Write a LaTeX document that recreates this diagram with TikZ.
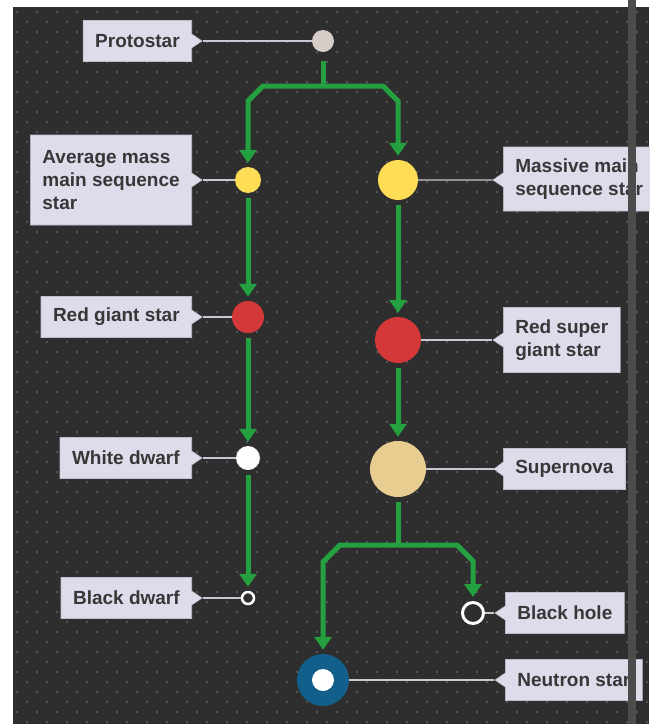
\documentclass[tikz,border=0pt]{standalone}
\usepackage{fontspec}
\setmainfont{Liberation Sans}
\usepackage{xcolor}
\usetikzlibrary{arrows.meta, shapes.callouts, calc}
\definecolor{bgdark}{RGB}{46,46,46}
\definecolor{dotgray}{RGB}{125,125,125}
\definecolor{bargray}{RGB}{76,76,76}
\definecolor{flowgreen}{RGB}{36,160,64}
\definecolor{lblfill}{RGB}{221,220,235}
\definecolor{lbledge}{RGB}{190,190,205}
\definecolor{lbltext}{RGB}{55,55,55}
\definecolor{leadgray}{RGB}{200,200,210}
\definecolor{protogray}{RGB}{214,205,201}
\definecolor{staryellow}{RGB}{255,220,85}
\definecolor{starred}{RGB}{212,56,56}
\definecolor{novabeige}{RGB}{232,205,145}
\definecolor{neutronblue}{RGB}{17,95,138}

\begin{document}
\begin{tikzpicture}[
      x=1pt, y=-1pt,
      every node/.style={font=\fontsize{19}{23}\selectfont\bfseries},
      lbl/.style={rectangle callout, fill=lblfill, draw=lbledge, line width=0.6pt, text=lbltext, align=left, inner xsep=12pt, inner ysep=0pt, callout pointer width=14pt, minimum height=41pt},
      body/.style={circle, inner sep=0pt, draw=none},
      ring/.style={circle, inner sep=0pt, draw=white, fill=bgdark},
      leader/.style={draw=leadgray, line width=1.4pt},
      flow/.style={draw=flowgreen, line width=5pt},
      flowarr/.style={flow, -{Triangle[width=17pt,length=13pt]}, shorten >=4pt},
  ]
    \useasboundingbox (0,0) rectangle (649,724);
    \fill[white] (0,0) rectangle (649,724);
    \fill[bgdark] (13,7) rectangle (649,724);
    \foreach \row in {0,...,71}{
      \pgfmathtruncatemacro{\offs}{mod(\row,2)*10}
      \foreach \col in {0,...,31}
        \fill[dotgray] ({17+\offs+20*\col},{12+10*\row}) circle (0.8);
    }

    \node[body, fill=protogray, minimum size=22pt] (proto) at (323,41) {};
    \node[body, fill=staryellow, minimum size=26pt] (avg) at (248,180) {};
    \node[body, fill=staryellow, minimum size=40pt] (massive) at (398,180) {};
    \node[body, fill=starred, minimum size=32pt] (redgiant) at (248,317) {};
    \node[body, fill=starred, minimum size=46pt] (supergiant) at (398,340) {};
    \node[body, fill=white, minimum size=24pt] (whitedwarf) at (248,458) {};
    \node[body, fill=novabeige, minimum size=56pt] (supernova) at (398,469) {};
    \node[ring, line width=2.5pt, minimum size=12pt] (blackdwarf) at (248,598) {};
    \node[ring, line width=3pt, minimum size=21pt] (blackhole) at (473,613) {};
    \node[body, fill=neutronblue, minimum size=52pt] (neutron) at (323,680) {};
    \fill[white] (neutron) circle (11);

    \coordinate (split1) at (323,86);
    \coordinate (split2) at (398,545);

    \draw[flow, shorten <=9pt] (proto) -- (split1);
    \draw[flowarr] (split1) -- ++(-60,0) -- ++(-15,15) -- (avg);
    \draw[flowarr] (split1) -- ++(60,0) -- ++(15,15) -- (massive);
    \draw[flowarr, shorten <=5pt] (avg) -- (redgiant);
    \draw[flowarr, shorten <=5pt] (massive) -- (supergiant);
    \draw[flowarr, shorten <=5pt] (redgiant) -- (whitedwarf);
    \draw[flowarr, shorten <=5pt] (supergiant) -- (supernova);
    \draw[flowarr, shorten <=5pt] (whitedwarf) -- (blackdwarf);
    \draw[flow, shorten <=5pt] (supernova) -- (split2);
    \draw[flowarr] (split2) -- ++(-58,0) -- ++(-17,17) -- (neutron);
    \draw[flowarr] (split2) -- ++(59,0) -- ++(16,16) -- (blackhole);

    \node[lbl, anchor=east, callout absolute pointer={(202,41)}] (lproto) at (192,41) {Protostar};
    \node[lbl, anchor=east, minimum height=90pt, callout absolute pointer={(202,180)}] (lavg) at (192,180) {Average mass\\main sequence\\star};
    \node[lbl, anchor=west, minimum height=64pt, callout absolute pointer={(493,180)}] (lmassive) at (503,179) {Massive main\\sequence star};
    \node[lbl, anchor=east, callout absolute pointer={(202,317)}] (lredgiant) at (192,317) {Red giant star};
    \node[lbl, anchor=west, minimum height=65pt, callout absolute pointer={(493,340)}] (lsupergiant) at (503,340) {Red super\\giant star};
    \node[lbl, anchor=east, callout absolute pointer={(202,458)}] (lwhitedwarf) at (192,458) {White dwarf};
    \node[lbl, anchor=west, callout absolute pointer={(494,469)}] (lsupernova) at (503,469) {Supernova};
    \node[lbl, anchor=east, callout absolute pointer={(202,598)}] (lblackdwarf) at (192,598) {Black dwarf};
    \node[lbl, anchor=west, callout absolute pointer={(495,613)}] (lblackhole) at (505,613) {Black hole};
    \node[lbl, anchor=west, callout absolute pointer={(495,680)}] (lneutron) at (505,680) {Neutron star};

    \draw[leader] (lproto.pointer) -- (proto);
    \draw[leader] (lavg.pointer) -- (avg);
    \draw[leader] (lmassive.pointer) -- (massive);
    \draw[leader] (lredgiant.pointer) -- (redgiant);
    \draw[leader] (lsupergiant.pointer) -- (supergiant);
    \draw[leader] (lwhitedwarf.pointer) -- (whitedwarf);
    \draw[leader] (lsupernova.pointer) -- (supernova);
    \draw[leader] (lblackdwarf.pointer) -- (blackdwarf);
    \draw[leader] (lblackhole.pointer) -- (blackhole);
    \draw[leader] (lneutron.pointer) -- (neutron);

    \fill[bargray] (628,0) rectangle (636,724);
  \end{tikzpicture}
\end{document}
